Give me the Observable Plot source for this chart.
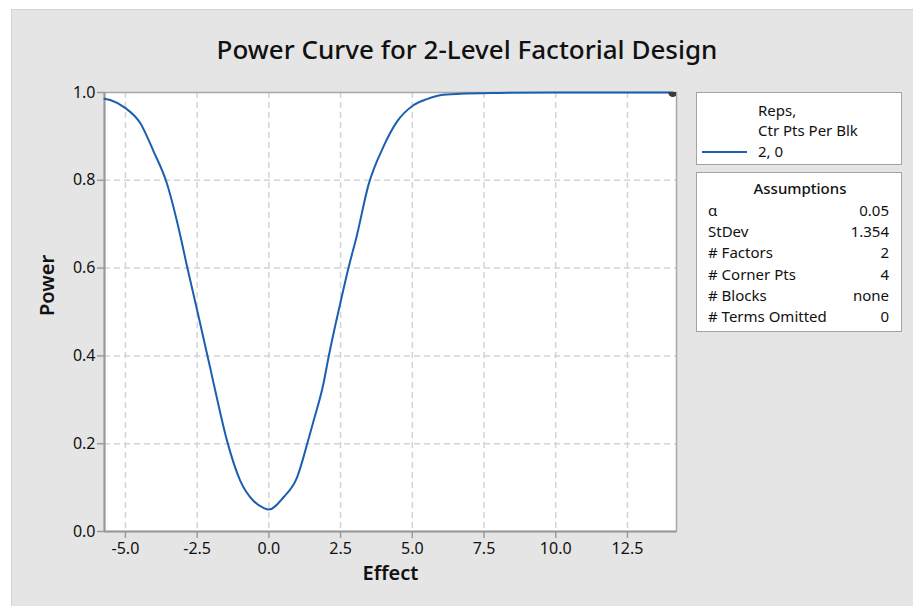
<!DOCTYPE html>
<html>
<head>
<meta charset="utf-8">
<script src="https://cdn.jsdelivr.net/npm/d3@7"></script>
<script src="https://cdn.jsdelivr.net/npm/@observablehq/plot@0.6"></script>
<style>
  html, body { margin: 0; padding: 0; background: #ffffff; }
  body { font-family: "Noto Sans", "Open Sans", sans-serif; color: #111; }
  #page { position: relative; width: 913px; height: 606px; overflow: hidden; }
  #panel { position: absolute; left: 11px; top: 9px; right: 0; bottom: 0; background: #e5e5e5;
           border-left: 1px solid #d2d2d2; border-top: 1px solid #d2d2d2; }
  #title { position: absolute; left: 117px; width: 700px; top: 31px; text-align: center;
           font-size: 26px; line-height: 36px; color: #111; font-weight: 500; }
  #chart { position: absolute; left: 0; top: 0; }
  .box { position: absolute; box-sizing: border-box; background: #fff; border: 1.5px solid #a3a3a3; }
  .t { position: absolute; font-size: 15px; line-height: 20px; color: #111; white-space: nowrap; }
</style>
</head>
<body>
<div id="page">
  <div id="panel"></div>
  <div id="title"></div>
  <div id="chart"></div>
  <div id="legend"></div>
</div>
<script>
// ---- data ----
const chartTitle = "Power Curve for 2-Level Factorial Design";
const xLabel = "Effect";
const yLabel = "Power";
const effect = [-5.73, -5.53, -5.01, -4.48, -4.02, -3.56, -3.09, -2.86, -2.51, -2.05, -1.87, -1.46, -1.00, -0.54, -0.19, 0.00, 0.51, 0.98, 1.38, 1.55, 1.90, 2.08, 2.49, 2.77, 3.07, 3.47, 3.99, 4.46, 5.04, 5.51, 5.97, 6.67, 8.00, 10.00, 12.00, 14.08];
const power  = [0.986, 0.983, 0.965, 0.930, 0.866, 0.794, 0.675, 0.606, 0.507, 0.374, 0.321, 0.207, 0.116, 0.070, 0.054, 0.050, 0.078, 0.123, 0.210, 0.250, 0.336, 0.397, 0.520, 0.599, 0.675, 0.789, 0.876, 0.933, 0.971, 0.985, 0.994, 0.997, 0.999, 1.000, 1.000, 1.000];
const markerEffect = [14.08];
const markerPower = [1.0];
const xTicks = [-5, -2.5, 0, 2.5, 5, 7.5, 10, 12.5];
const yTicks = [0, 0.2, 0.4, 0.6, 0.8, 1.0];
const yGrid = [0.2, 0.4, 0.6, 0.8];
const legendHeader = ["Reps,", "Ctr Pts Per Blk"];
const legendSeries = ["2, 0"];
const assumptionsTitle = "Assumptions";
const assumptionLabels = ["α", "StDev", "# Factors", "# Corner Pts", "# Blocks", "# Terms Omitted"];
const assumptionValues = ["0.05", "1.354", "2", "4", "none", "0"];

const curve = effect.map((e, i) => ({effect: e, power: power[i]}));
const marker = markerEffect.map((e, i) => ({effect: e, power: markerPower[i]}));

document.getElementById("title").textContent = chartTitle;

const lineColor = "#1b5fae";
const axisGray = "#9c9c9c";

const plot = Plot.plot({
  width: 913,
  height: 606,
  marginLeft: 104,
  marginRight: 237,
  marginTop: 92,
  marginBottom: 75,
  style: {fontFamily: "Noto Sans, Open Sans, sans-serif", fontSize: "16px", color: "#111", background: "transparent", overflow: "visible"},
  x: {domain: [-5.73, 14.21]},
  y: {domain: [0, 1]},
  marks: [
    Plot.frame({fill: "white", stroke: "none"}),
    Plot.gridX(xTicks, {stroke: "#d4d4d4", strokeOpacity: 1, strokeWidth: 1.5, strokeDasharray: "6,4"}),
    Plot.gridY(yGrid, {stroke: "#d4d4d4", strokeOpacity: 1, strokeWidth: 1.5, strokeDasharray: "6,4"}),
    Plot.frame({stroke: "#a8a8a8", strokeWidth: 1.5}),
    Plot.axisX(xTicks, {tickFormat: d => d.toFixed(1), tickSize: 7, tickPadding: 4, stroke: axisGray, strokeWidth: 1.5, label: null, fontSize: 16}),
    Plot.axisY(yTicks, {tickFormat: d => d.toFixed(1), tickSize: 7, tickPadding: 2, stroke: axisGray, strokeWidth: 1.5, label: null, fontSize: 16}),
    Plot.ruleX([-5.73], {stroke: "#999", strokeWidth: 2}),
    Plot.ruleY([0], {stroke: "#999", strokeWidth: 2}),
    Plot.line(curve, {x: "effect", y: "power", stroke: lineColor, strokeWidth: 2, curve: "monotone-x"}),
    Plot.dot(marker, {x: "effect", y: "power", r: 4.5, fill: "#3a3a3a", stroke: "none", clip: true}),
    Plot.text([yLabel], {frameAnchor: "left", dx: -57, dy: 4, rotate: -90, text: d => d, fontSize: 20, fontWeight: 600}),
    Plot.text([xLabel], {frameAnchor: "bottom", dy: 48, text: d => d, fontSize: 20, fontWeight: 600})
  ]
});
document.getElementById("chart").appendChild(plot);

// ---- legend boxes (HTML) ----
const legend = document.getElementById("legend");
function box(left, top, w, h) {
  const b = document.createElement("div");
  b.className = "box";
  Object.assign(b.style, {left: left + "px", top: top + "px", width: w + "px", height: h + "px"});
  legend.appendChild(b);
}
function text(str, x, cy, align, weight) {
  const s = document.createElement("div");
  s.className = "t";
  s.textContent = str;
  s.style.top = (cy - 10) + "px";
  if (align === "right") { s.style.right = (913 - x) + "px"; }
  else if (align === "center") { s.style.left = (x - 100) + "px"; s.style.width = "200px"; s.style.textAlign = "center"; }
  else { s.style.left = x + "px"; }
  if (weight) s.style.fontWeight = weight;
  legend.appendChild(s);
}
box(696, 92, 206, 73);
box(696, 172, 206, 160);
text(legendHeader[0], 758, 110);
text(legendHeader[1], 758, 130);
text(legendSeries[0], 758, 151);
const sw = document.createElement("div");
Object.assign(sw.style, {position: "absolute", left: "702px", top: "151px", width: "45px", height: "2px", background: lineColor});
legend.appendChild(sw);
text(assumptionsTitle, 800, 188, "center", 500);
const rowY = [210, 231, 252, 274, 295, 316];
assumptionLabels.forEach((l, i) => {
  text(l, 708, rowY[i]);
  text(assumptionValues[i], 889, rowY[i], "right");
});
</script>
</body>
</html>
